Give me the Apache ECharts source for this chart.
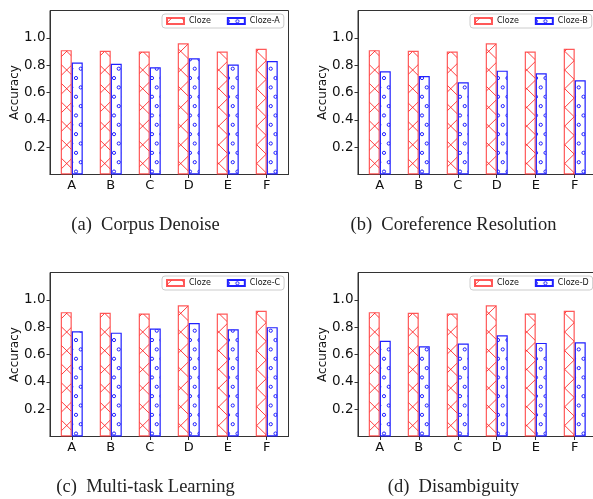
<!DOCTYPE html>
<html><head><meta charset="utf-8">
<script src="https://cdn.jsdelivr.net/npm/echarts@6/dist/echarts.min.js"></script>
<style>
html,body{margin:0;padding:0;background:#fff;overflow:hidden;}
#wrap{position:relative;width:593px;height:499px;overflow:hidden;background:#fff;}
.p{position:absolute;width:300px;}
</style></head><body>
<div id="wrap">
<div id="pa" class="p" style="left:0;top:0;height:262px"></div>
<div id="pb" class="p" style="left:308px;top:0;height:262px"></div>
<div id="pc" class="p" style="left:0;top:262px;height:237px"></div>
<div id="pd" class="p" style="left:308px;top:262px;height:237px"></div>
</div>
<script>
// ---- data ----
const categories = ['A', 'B', 'C', 'D', 'E', 'F'];
const yTickValues = [0.2, 0.4, 0.6, 0.8, 1.0];
const xTickValues = [0, 1, 2, 3, 4, 5];
const cloze  = [0.91, 0.905, 0.90, 0.96, 0.90, 0.92];
const clozeA = [0.82, 0.81, 0.785, 0.85, 0.805, 0.83];
const clozeB = [0.755, 0.72, 0.675, 0.76, 0.74, 0.69];
const clozeC = [0.77, 0.76, 0.79, 0.83, 0.785, 0.80];
const clozeD = [0.70, 0.66, 0.68, 0.74, 0.685, 0.69];
const variantNames = ['Cloze-A', 'Cloze-B', 'Cloze-C', 'Cloze-D'];
const variantValues = [clozeA, clozeB, clozeC, clozeD];
const captions = ['(a)  Corpus Denoise', '(b)  Coreference Resolution', '(c)  Multi-task Learning', '(d)  Disambiguity'];

// ---- hatch patterns ----
function makeHatchX() {
  const W = 19, H = 187;
  const c = document.createElement('canvas'); c.width = W; c.height = H;
  const g = c.getContext('2d');
  g.strokeStyle = 'rgba(255,20,20,0.9)'; g.lineWidth = 0.9;
  const px = 19, py = 18.7, x0 = 66.7, y0 = 70;
  g.beginPath();
  const xa = -px, xb = 2 * px;
  for (let n = -40; n <= 40; n++) {
    g.moveTo(xa, y0 + py * (n - (xa - x0) / px)); g.lineTo(xb, y0 + py * (n - (xb - x0) / px));
    g.moveTo(xa, y0 + py * ((xa - x0) / px - n)); g.lineTo(xb, y0 + py * ((xb - x0) / px - n));
  }
  g.stroke();
  return c;
}
function makeHatchO() {
  const W = 19, H = 187;
  const c = document.createElement('canvas'); c.width = W; c.height = H;
  const g = c.getContext('2d');
  g.strokeStyle = '#1f1fff'; g.lineWidth = 1;
  const sx = 9.5, py = 18.7;
  const rows = [[80.75, 68.7], [76, 78.05]];
  for (const [gx, gy] of rows) {
    const xm = ((gx % sx) + sx) % sx, ym = ((gy % py) + py) % py;
    for (let i = -1; i <= 3; i++) for (let j = -1; j <= 11; j++) {
      g.beginPath();
      g.arc(xm + sx * i, ym + py * j, 1.6, 0, Math.PI * 2);
      g.stroke();
    }
  }
  return c;
}
const hatchX = makeHatchX();
const hatchO = makeHatchO();

function buildOption(k) {
  const axisColor = '#333';
  return {
    animation: false,
    backgroundColor: '#fff',
    textStyle: { fontFamily: 'DejaVu Sans' },
    grid: { left: 50, top: 10.5, width: 238.5, height: 164, show: true, borderColor: axisColor, borderWidth: 1,
            backgroundColor: 'transparent', containLabel: false, outerBoundsMode: 'none' },
    xAxis: {
      type: 'value', min: -0.558, max: 5.558,
      axisLine: { show: true, onZero: false, lineStyle: { color: axisColor } },
      splitLine: { show: false },
      axisTick: { show: true, length: 3.5, customValues: xTickValues, lineStyle: { color: axisColor } },
      axisLabel: { customValues: xTickValues, formatter: v => categories[Math.round(v)], fontSize: 13, color: '#111', margin: 4.5, fontFamily: 'DejaVu Sans' }
    },
    yAxis: {
      type: 'value', min: 0, max: 1.2,
      name: 'Accuracy', nameLocation: 'middle', nameGap: 29, nameMoveOverlap: false,
      nameTextStyle: { fontSize: 12, color: '#111', fontFamily: 'DejaVu Sans' },
      axisLine: { show: true, onZero: false, lineStyle: { color: axisColor } },
      splitLine: { show: false },
      axisTick: { show: true, length: 3.5, customValues: yTickValues, lineStyle: { color: axisColor } },
      axisLabel: { customValues: yTickValues, formatter: v => v.toFixed(1), fontSize: 13.5, color: '#111', margin: 4.5, fontFamily: 'DejaVu Sans' }
    },
    legend: {
      data: ['Cloze', variantNames[k]],
      left: 162, top: 14, orient: 'horizontal',
      icon: 'rect', itemWidth: 17, itemHeight: 6, itemGap: 16,
      padding: [3, 4, 3, 4],
      backgroundColor: '#fff', borderColor: '#ccc', borderWidth: 1, borderRadius: 3,
      textStyle: { fontSize: 8, color: '#111', fontFamily: 'DejaVu Sans' }
    },
    series: [
      { name: 'Cloze', type: 'bar', data: cloze.map((v, i) => [i, v]), barWidth: 11, barGap: '0%',
        itemStyle: { color: { image: hatchX, repeat: 'repeat' }, borderColor: 'rgba(255,60,60,0.85)', borderWidth: 1.2 } },
      { name: variantNames[k], type: 'bar', data: variantValues[k].map((v, i) => [i, v]), barWidth: 11, barGap: '0%',
        itemStyle: { color: { image: hatchO, repeat: 'repeat' }, borderColor: '#2020ff', borderWidth: 1.2 } }
    ],
    graphic: [{
      type: 'text', x: 145.5, y: 225,
      style: { text: captions[k], font: '18.5px "Liberation Serif"', fill: '#222', align: 'center', verticalAlign: 'middle', textAlign: 'center', textVerticalAlign: 'middle' }
    }]
  };
}

['pa', 'pb', 'pc', 'pd'].forEach((id, k) => {
  const chart = echarts.init(document.getElementById(id), null, { renderer: 'canvas' });
  chart.setOption(buildOption(k));
});
</script>
</body></html>
